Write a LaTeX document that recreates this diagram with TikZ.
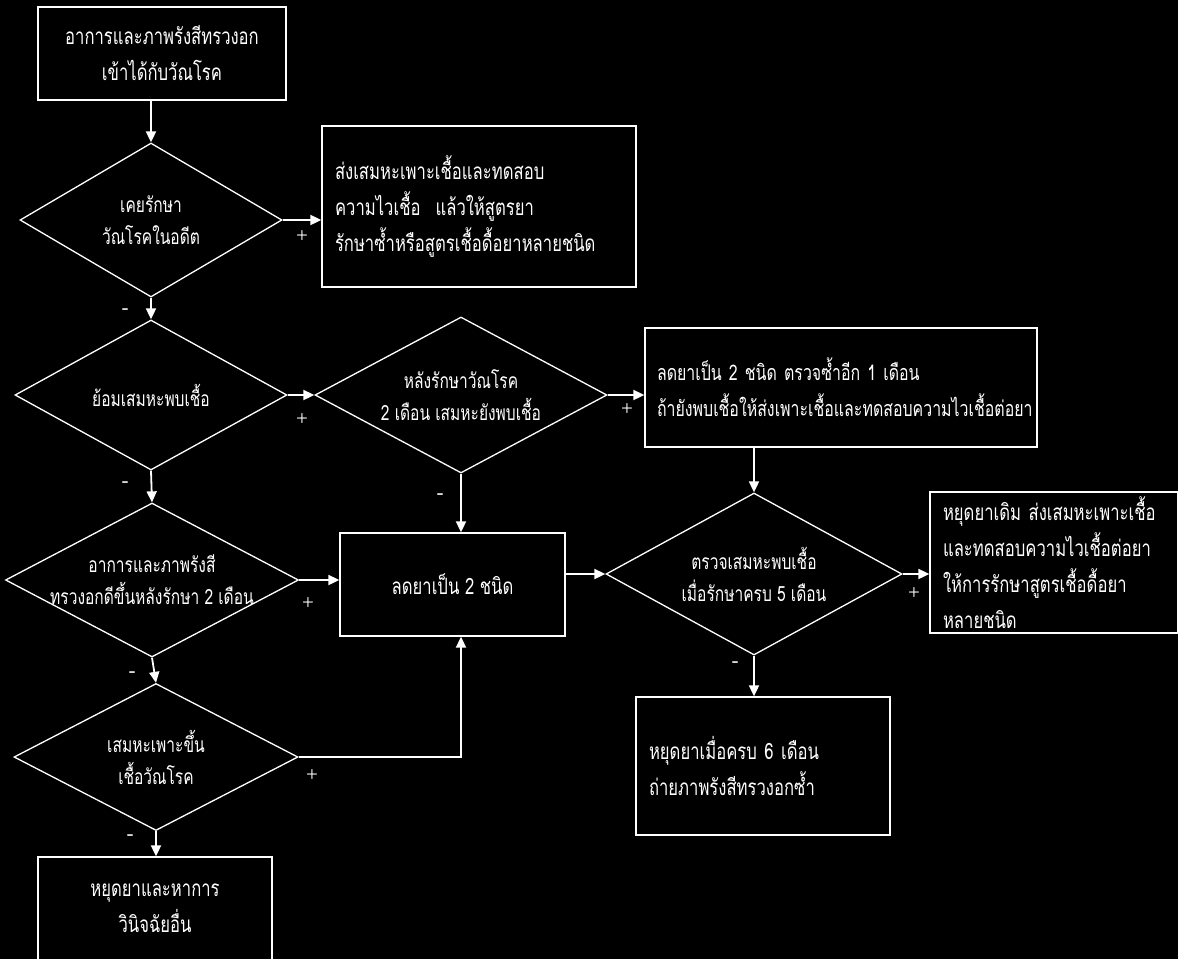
\documentclass[tikz,border=0pt]{standalone}
\usepackage{fontspec}
\usetikzlibrary{shapes.geometric,arrows.meta}
\newfontfamily\thaifont[Script=Thai,FakeStretch=0.74]{Loma}
\newfontfamily\signfont{Liberation Serif}

\tikzset{
  box/.style={draw=white, line width=1.3pt, rectangle, inner sep=0pt, text=white,
    font=\thaifont\fontsize{22.5}{36}\selectfont},
  lbox/.style={box, align=left, inner xsep=13pt},
  dia/.style={draw=white, line width=1.3pt, diamond, inner sep=0pt},
  dtext/.style={text=white, align=center, inner sep=0pt,
    font=\thaifont\fontsize{21}{32}\selectfont},
  arr/.style={draw=white, line width=1.8pt, -{Triangle[length=11pt,width=10pt]}},
  sign/.style={text=white, font=\signfont\fontsize{21}{21}\selectfont}
}

\begin{document}
\begin{tikzpicture}[x=1pt,y=-1pt]
\fill[black] (0,0) rectangle (1178,959);
\useasboundingbox (0,0) rectangle (1178,959);

% boxes
\node[box, align=center, minimum width=248, minimum height=93] (sign) at (162,53.5)
  {อาการและภาพรังสีทรวงอก\\เข้าได้กับวัณโรค};
\node[lbox, text width=288, minimum height=161] (retreat) at (479,206.5)
  {ส่งเสมหะเพาะเชื้อและทดสอบ\\ความไวเชื้อ\ \ แล้วให้สูตรยา\\รักษาซ้ำหรือสูตรเชื้อดื้อยาหลายชนิด};
\node[lbox, inner xsep=12pt, text width=368, minimum height=119,
  font=\thaifont\fontsize{21.5}{36}\selectfont] (recheck) at (841,387.5)
  {ลดยาเป็น~2~ชนิด~ตรวจซ้ำอีก~1~เดือน\\ถ้ายังพบเชื้อให้ส่งเพาะเชื้อและทดสอบความไวเชื้อต่อยา};
\node[box, minimum width=225, minimum height=103] (reduce) at (452.5,584.5)
  {ลดยาเป็น 2 ชนิด};
\node[lbox, text width=222, minimum height=141] (mdr) at (1054,562.5)
  {หยุดยาเดิม~ส่งเสมหะเพาะเชื้อ\\และทดสอบความไวเชื้อต่อยา\\ให้การรักษาสูตรเชื้อดื้อยา\\หลายชนิด};
\node[lbox, text width=228, minimum height=138] (stop) at (763,766)
  {หยุดยาเมื่อครบ~6~เดือน\\ถ่ายภาพรังสีทรวงอกซ้ำ};
\node[box, align=center, minimum width=234, minimum height=120] (other) at (155,917)
  {หยุดยาและหาการ\\วินิจฉัยอื่น\\[-18pt]};

% diamonds
\node[dia, minimum width=262, minimum height=154] (past) at (151,220) {};
\node[dtext] (past-t) at (past) {เคยรักษา\\วัณโรคในอดีต};
\node[dia, minimum width=272, minimum height=150] (smear) at (151,395) {};
\node[dtext] (smear-t) at (smear) {ย้อมเสมหะพบเชื้อ};
\node[dia, minimum width=292, minimum height=156] (smear2) at (461,395) {};
\node[dtext] (smear2-t) at (smear2) {หลังรักษาวัณโรค\\2 เดือน เสมหะยังพบเชื้อ};
\node[dia, minimum width=293, minimum height=154] (better) at (152,580) {};
\node[dtext] (better-t) at (better) {อาการและภาพรังสี\\ทรวงอกดีขึ้นหลังรักษา 2 เดือน};
\node[dia, minimum width=296, minimum height=162] (smear5) at (754,574) {};
\node[dtext] (smear5-t) at (smear5) {ตรวจเสมหะพบเชื้อ\\เมื่อรักษาครบ 5 เดือน};
\node[dia, minimum width=284, minimum height=147] (culture) at (156,757) {};
\node[dtext] (culture-t) at (culture) {เสมหะเพาะขึ้น\\เชื้อวัณโรค};

% connectors
\draw[arr] (sign.south -| past.north) -- (past.north);
\draw[arr] (past.east) -- (past.east -| retreat.west);
\draw[arr] (past.south) -- (smear.north);
\draw[arr] (smear.east) -- (smear2.west);
\draw[arr] (smear2.east) -- (smear2.east -| recheck.west);
\draw[arr] (recheck.south -| smear5.north) -- (smear5.north);
\draw[arr] (smear.south) -- (better.north);
\draw[arr] (better.east) -- (better.east -| reduce.west);
\draw[arr] (smear2.south) -- (smear2.south |- reduce.north);
\draw[arr] (reduce.east |- smear5.west) -- (smear5.west);
\draw[arr] (smear5.east) -- (smear5.east -| mdr.west);
\draw[arr] (smear5.south) -- (smear5.south |- stop.north);
\draw[arr] (better.south) -- (culture.north);
\draw[arr] (culture.east) -| (smear2.south |- reduce.south);
\draw[arr] (culture.south) -- (culture.south |- other.north);

% signs
\node[sign] (p1) at (302,237) {+};
\node[sign] (p2) at (302,420) {+};
\node[sign] (p3) at (627,410) {+};
\node[sign] (p4) at (308,604) {+};
\node[sign] (p5) at (914,594) {+};
\node[sign] (p6) at (312,776) {+};
\node[sign] (m1) at (125,312) {-};
\node[sign] (m2) at (125,485) {-};
\node[sign] (m3) at (440,497) {-};
\node[sign] (m4) at (132,675) {-};
\node[sign] (m5) at (735,665) {-};
\node[sign] (m6) at (130,838) {-};
\end{tikzpicture}
\end{document}
